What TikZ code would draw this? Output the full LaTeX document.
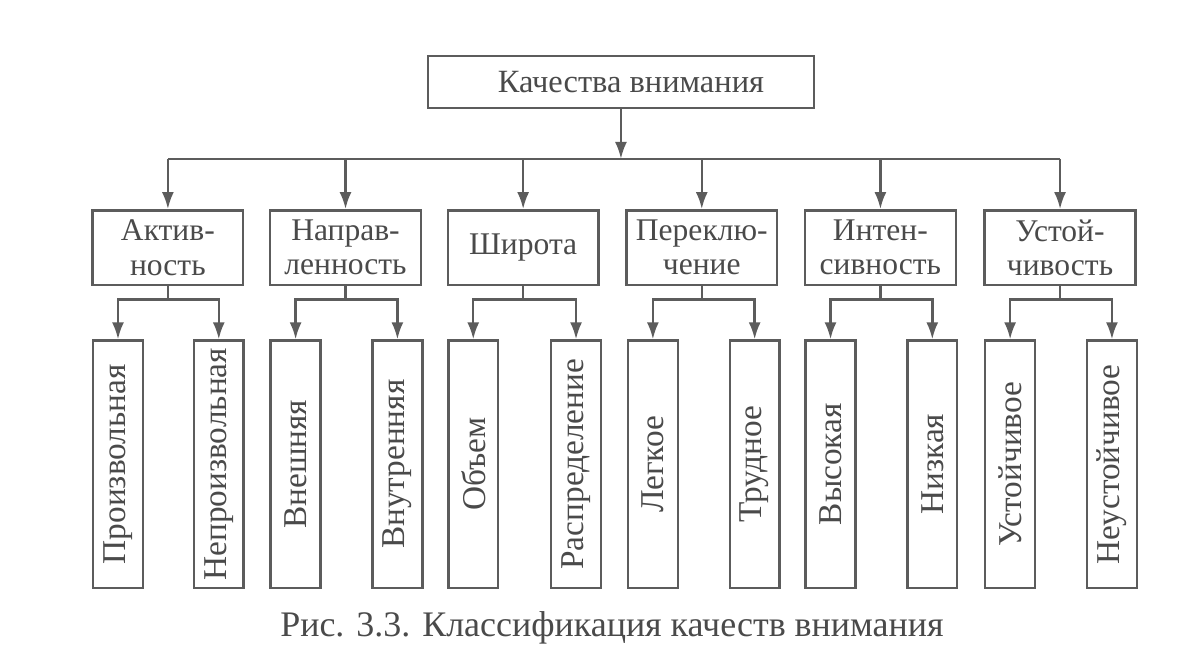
\documentclass[tikz,border=0pt]{standalone}
\usepackage{fontspec}
\setmainfont{Liberation Serif}
\usepackage{tikz}
\usetikzlibrary{arrows.meta}

\definecolor{ink}{HTML}{5C5C5C}
\definecolor{txt}{HTML}{4A4A4A}

\begin{document}
\begin{tikzpicture}[x=0.02cm, y=-0.02cm, >={Latex[length=3.4mm,width=2.4mm]},
  every path/.style={draw=ink, line width=1.4pt},
  box/.style={draw=ink, line width=1.4pt, text=txt, align=center, inner sep=0pt,
    minimum width=3.02cm, minimum height=1.5cm, font=\fontsize{18}{19.5}\selectfont},
  leaf/.style={box, rotate=90, minimum width=4.96cm, minimum height=1cm,
    font=\fontsize{19}{21}\selectfont}]
  \useasboundingbox (0,0) rectangle (1191,655);
  \fill[white] (0,0) rectangle (1191,655);

  \node (top) [box, minimum width=7.74cm, minimum height=1.04cm,
    font=\fontsize{18.5}{20}\selectfont] at (621,81) {\hspace*{0.4cm}Качества внимания};
  \coordinate (bus) at (0,158);

  \node (akt)  [box] at (167,247) {Актив-\\ность};
  \node (napr) [box] at (345,247) {Направ-\\ленность};
  \node (shir) [box] at (523,247) {Широта};
  \node (per)  [box] at (702,247) {Переклю-\\чение};
  \node (int)  [box] at (881,247) {Интен-\\сивность};
  \node (ust)  [box] at (1061,247) {Устой-\\чивость};

  \node (akt1)  [leaf] at (117,464) {Произвольная};
  \node (akt2)  [leaf] at (218,464) {Непроизвольная};
  \node (napr1) [leaf] at (295,464) {Внешняя};
  \node (napr2) [leaf] at (397,464) {Внутренняя};
  \node (shir1) [leaf] at (473,464) {Объем};
  \node (shir2) [leaf] at (576,464) {Распределение};
  \node (per1)  [leaf] at (653,464) {Легкое};
  \node (per2)  [leaf] at (755,464) {Трудное};
  \node (int1)  [leaf] at (831,464) {Высокая};
  \node (int2)  [leaf] at (933,464) {Низкая};
  \node (ust1)  [leaf] at (1011,464) {Устойчивое};
  \node (ust2)  [leaf] at (1113,464) {Неустойчивое};

  \node (cap) [text=txt, font=\fontsize{20.5}{22}\selectfont] at (612,628)
    {Рис. 3.3. Классификация качеств внимания};

  % first level
  \draw[->] (top) -- (top |- bus);
  \draw (akt |- bus) -- (ust |- bus);
  \draw[->] (akt |- bus) -- (akt);
  \draw[->] (napr |- bus) -- (napr);
  \draw[->] (shir |- bus) -- (shir);
  \draw[->] (per |- bus) -- (per);
  \draw[->] (int |- bus) -- (int);
  \draw[->] (ust |- bus) -- (ust);

  % second level
  \draw[->] (akt.south) -- ++(0,13) -| (akt1);
  \draw[->] (akt.south) -- ++(0,13) -| (akt2);
  \draw[->] (napr.south) -- ++(0,13) -| (napr1);
  \draw[->] (napr.south) -- ++(0,13) -| (napr2);
  \draw[->] (shir.south) -- ++(0,13) -| (shir1);
  \draw[->] (shir.south) -- ++(0,13) -| (shir2);
  \draw[->] (per.south) -- ++(0,13) -| (per1);
  \draw[->] (per.south) -- ++(0,13) -| (per2);
  \draw[->] (int.south) -- ++(0,13) -| (int1);
  \draw[->] (int.south) -- ++(0,13) -| (int2);
  \draw[->] (ust.south) -- ++(0,13) -| (ust1);
  \draw[->] (ust.south) -- ++(0,13) -| (ust2);
\end{tikzpicture}
\end{document}
